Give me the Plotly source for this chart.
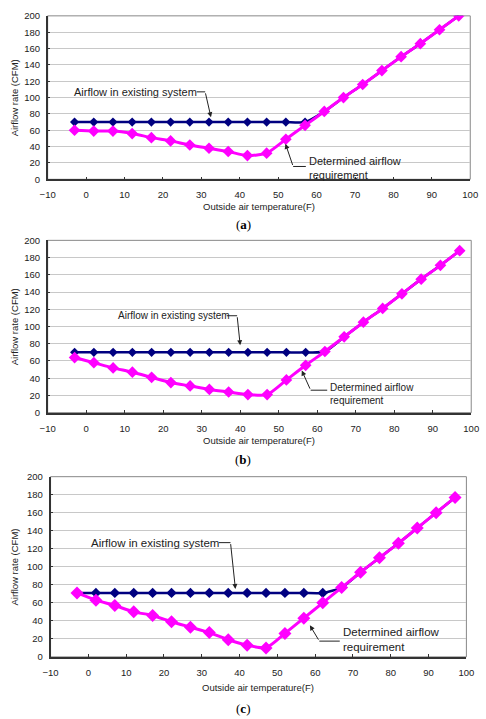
import plotly.graph_objects as go

# ---- data ----
temps = [-3, 2, 7, 12, 17, 22, 27, 32, 37, 42, 47, 52, 57, 62, 67, 72, 77, 82, 87, 92, 97]

existing_a = [70, 70, 70, 70, 70, 70, 70, 70, 70, 70, 70, 70, 70, 83, 100, 116, 133, 150, 166, 183, 200]
required_a = [60, 59, 59, 56, 51, 47, 42, 38, 34, 29, 32, 49, 66, 83, 100, 116, 133, 150, 166, 183, 200]

existing_b = [70, 70, 70, 70, 70, 70, 70, 70, 70, 70, 70, 70, 70, 71, 88, 105, 121, 138, 155, 171, 188]
required_b = [64, 58, 52, 47, 41, 35, 31, 27, 24, 21, 21, 38, 55, 71, 88, 105, 121, 138, 155, 171, 188]

existing_c = [71, 71, 71, 71, 71, 71, 71, 71, 71, 71, 71, 71, 71, 71, 77, 94, 110, 126, 143, 160, 177]
required_c = [71, 63, 57, 50, 46, 39, 33, 27, 19, 13, 10, 26, 43, 60, 77, 94, 110, 126, 143, 160, 177]

x_ticks = [-10, 0, 10, 20, 30, 40, 50, 60, 70, 80, 90, 100]
y_ticks = [0, 20, 40, 60, 80, 100, 120, 140, 160, 180, 200]

panel_labels = ["a", "b", "c"]
existing_label = "Airflow in existing system"
required_label = "Determined airflow<br>requirement"
x_title = "Outside air temperature(F)"
y_title = "Airflow rate (CFM)"

# ---- layout geometry (pixels) ----
W, H = 486, 719
panels = [
    dict(ex=existing_a, rq=required_a, x0=41, x1=478, top=10, bot=176, lab_y=222,
         title_y=204, ms_b=7, ms_p=9, fs=11,
         t1=dict(x=66, y=107, x_elbow0=28.8, x_elbow1=31.0, ax=32.5, ay=76),
         t2=dict(x=57.2, y1=19, y2=8, xe=53.9, ye=15.7, ax=51.9, ay=43.4)),
    dict(ex=existing_b, rq=required_b, x0=41, x1=479, top=238, bot=413, lab_y=461,
         title_y=441, ms_b=7, ms_p=9, fs=10,
         t1=dict(x=112, y=112.5, x_elbow0=36.5, x_elbow1=39.2, ax=40.0, ay=78.4),
         t2=dict(x=62.6, y1=28, y2=15, xe=58.3, ye=26.1, ax=56.0, ay=48.9)),
    dict(ex=existing_c, rq=required_c, x0=44, x1=474, top=478, bot=661, lab_y=713,
         title_y=692, ms_b=8, ms_p=10, fs=11.5,
         t1=dict(x=84, y=126.8, x_elbow0=34.5, x_elbow1=37.6, ax=38.9, ay=75.4),
         t2=dict(x=66.5, y1=27, y2=12, xe=61.1, ye=17.5, ax=58.6, ay=35.0)),
]

fig = go.Figure()
annotations = []
shapes = []
font = "Arial, Liberation Sans, sans-serif"
tick_font = dict(size=9.5, color="#222", family=font)

for i, p in enumerate(panels):
    sfx = "" if i == 0 else str(i + 1)
    xa, ya = "x" + sfx, "y" + sfx
    fig.add_trace(go.Scatter(
        x=temps, y=p["ex"], xaxis=xa, yaxis=ya, mode="lines+markers",
        line=dict(color="#000080", width=2.5, shape="spline", smoothing=0.6),
        marker=dict(symbol="diamond", size=p["ms_b"], color="#000080"),
        showlegend=False, hoverinfo="skip"))
    fig.add_trace(go.Scatter(
        x=temps, y=p["rq"], xaxis=xa, yaxis=ya, mode="lines+markers",
        line=dict(color="#FF00FF", width=3, shape="spline", smoothing=0.6),
        marker=dict(symbol="diamond", size=p["ms_p"], color="#FF00FF"),
        showlegend=False, hoverinfo="skip"))

    xdom = [p["x0"] / W, p["x1"] / W]
    ydom = [1 - p["bot"] / H, 1 - p["top"] / H]
    fig.update_layout(**{
        "xaxis" + sfx: dict(domain=xdom, anchor=ya, range=[-10, 100], tickvals=x_ticks,
                            ticks="inside", ticklen=3, tickcolor="#333",
                            ticklabelstandoff=6,
                            showgrid=False, zeroline=False, showline=True,
                            linecolor="#333", linewidth=1.5,
                            tickfont=tick_font),
        "yaxis" + sfx: dict(domain=ydom, anchor=xa, range=[0, 200], tickvals=y_ticks,
                            ticks="inside", ticklen=3, tickcolor="#333",
                            ticklabelstandoff=4,
                            showgrid=True, gridcolor="#c8c8c8", gridwidth=1,
                            zeroline=False, showline=True,
                            linecolor="#333", linewidth=1.5,
                            tickfont=tick_font),
    })
    # gray plot frame (top/right)
    shapes.append(dict(type="rect", xref=xa + " domain", yref=ya + " domain",
                       x0=0, x1=1, y0=0, y1=1, line=dict(color="#888", width=1),
                       layer="below"))

    # axis titles
    annotations.append(dict(xref="paper", yref="paper",
                            x=(p["x0"] + p["x1"]) / 2 / W, y=1 - p["title_y"] / H,
                            text=x_title, showarrow=False, yanchor="middle",
                            font=dict(size=9.5, color="#222", family=font)))
    annotations.append(dict(xref="paper", yref="paper",
                            x=7 / W, y=1 - (p["top"] + p["bot"]) / 2 / H,
                            text=y_title, showarrow=False, textangle=-90,
                            xanchor="center", yanchor="middle",
                            font=dict(size=9.5, color="#222", family=font)))

    # panel label
    annotations.append(dict(xref="paper", yref="paper", x=0.5, y=1 - p["lab_y"] / H,
                            text="(<b>%s</b>)" % panel_labels[i], showarrow=False,
                            yanchor="middle",
                            font=dict(size=13, color="#000", family="Liberation Serif, Times New Roman, serif")))

    # "Airflow in existing system" callout
    t1 = p["t1"]
    annotations.append(dict(xref=xa, yref=ya, x=-10 + (t1["x"] - p["x0"]) / (p["x1"] - p["x0"]) * 110,
                            y=t1["y"], text=existing_label, showarrow=False,
                            xanchor="left", yanchor="middle",
                            font=dict(size=p["fs"], color="#222", family=font)))
    shapes.append(dict(type="line", xref=xa, yref=ya, x0=t1["x_elbow0"], x1=t1["x_elbow1"],
                       y0=t1["y"], y1=t1["y"], line=dict(color="#222", width=1)))
    annotations.append(dict(xref=xa, yref=ya, axref=xa, ayref=ya,
                            x=t1["ax"], y=t1["ay"], ax=t1["x_elbow1"], ay=t1["y"],
                            text="", showarrow=True, arrowhead=2, arrowsize=1,
                            arrowwidth=1, arrowcolor="#222"))

    # "Determined airflow requirement" callout
    t2 = p["t2"]
    annotations.append(dict(xref=xa, yref=ya, x=t2["x"] + 0.3, y=(t2["y1"] + t2["y2"]) / 2,
                            text=required_label, showarrow=False, align="left",
                            xanchor="left", yanchor="middle",
                            font=dict(size=p["fs"], color="#222", family=font)))
    shapes.append(dict(type="line", xref=xa, yref=ya, x0=t2["xe"], x1=t2["x"],
                       y0=t2["ye"], y1=t2["ye"], line=dict(color="#222", width=1)))
    annotations.append(dict(xref=xa, yref=ya, axref=xa, ayref=ya,
                            x=t2["ax"], y=t2["ay"], ax=t2["xe"], ay=t2["ye"],
                            text="", showarrow=True, arrowhead=2, arrowsize=1,
                            arrowwidth=1, arrowcolor="#222"))

fig.update_layout(width=W, height=H, margin=dict(l=0, r=0, t=0, b=0),
                  paper_bgcolor="white", plot_bgcolor="white",
                  annotations=annotations, shapes=shapes,
                  font=dict(family=font))

fig.write_html("out.html")
